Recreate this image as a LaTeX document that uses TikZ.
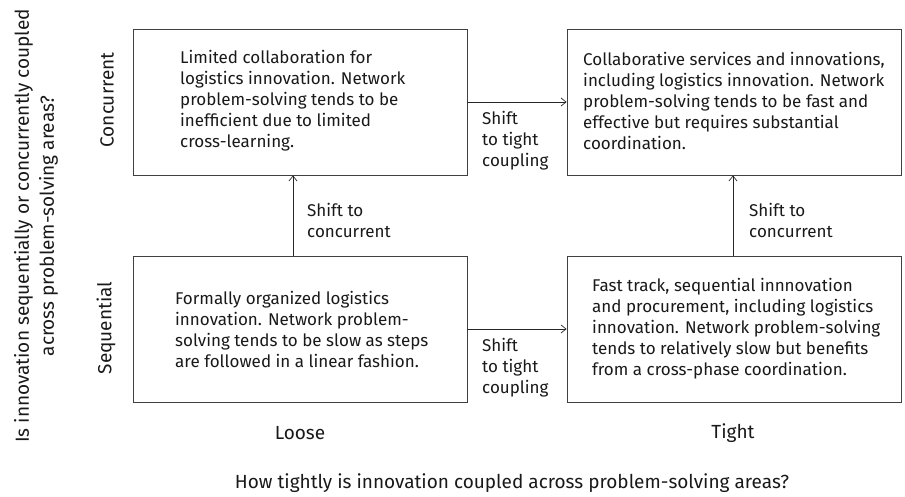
\documentclass[tikz,border=0pt]{standalone}
\usepackage{fontspec}
\setmainfont{Fira Sans}
\usetikzlibrary{arrows.meta}
\begin{document}
\begin{tikzpicture}[x=1pt,y=-1pt,
  quad/.style={draw=black!75, line width=0.8pt},
  txt/.style={anchor=west, inner sep=0pt, align=left, font=\fontsize{17}{21}\selectfont, text=black!90},
  axis/.style={inner sep=0pt, align=center, font=\fontsize{19}{25}\selectfont, text=black!90},
  conn/.style={draw=black!85, line width=0.7pt, -{Straight Barb[length=5pt,width=8pt]}}]
\useasboundingbox (0,0) rectangle (905,496);
% boxes
\node[quad, minimum width=334pt, minimum height=146pt, inner sep=0pt] (tl) at (300,102) {};
\node[quad, minimum width=334pt, minimum height=146pt, inner sep=0pt] (tr) at (734,102) {};
\node[quad, minimum width=334pt, minimum height=146pt, inner sep=0pt] (bl) at (300,329) {};
\node[quad, minimum width=334pt, minimum height=146pt, inner sep=0pt] (br) at (734,329) {};
% box texts
\node[txt] (tltext) at (180,101) {Limited collaboration for\\logistics innovation. Network\\problem-solving tends to be\\inefficient due to limited\\cross-learning.};
\node[txt] (trtext) at (583,101) {Collaborative services and innovations,\\including logistics innovation. Network\\problem-solving tends to be fast and\\effective but requires substantial\\coordination.};
\node[txt] (bltext) at (175,329.5) {Formally organized logistics\\innovation. Network problem-\\solving tends to be slow as steps\\are followed in a linear fashion.};
\node[txt] (brtext) at (592,329) {Fast track, sequential innnovation\\and procurement, including logistics\\innovation. Network problem-solving\\tends to relatively slow but benefits\\from a cross-phase coordination.};
% connectors
\coordinate (a1) at (467,102); \coordinate (a1e) at (567,102);
\coordinate (a2) at (467,329); \coordinate (a2e) at (567,329);
\draw[conn] (tl.east |- a1) -- (tr.west |- a1e);
\draw[conn] (bl.east |- a2) -- (br.west |- a2e);
\coordinate (v1) at (293,0); \coordinate (v2) at (733,0);
\draw[conn] (bl.north -| v1) -- (tl.south -| v1);
\draw[conn] (br.north -| v2) -- (tr.south -| v2);
% connector labels
\node[txt] (l1) at (482,141) {Shift\\to tight\\coupling};
\node[txt] (l2) at (482,368) {Shift\\to tight\\coupling};
\node[txt] (l3) at (307,220) {Shift to\\concurrent};
\node[txt] (l4) at (749,220) {Shift to\\concurrent};
% axis labels
\node[axis, rotate=90] (conc) at (107,100) {Concurrent};
\node[axis, rotate=90] (seq) at (106,328) {Sequential};
\node[axis] (loose) at (300,433) {Loose};
\node[axis] (tight) at (733,433) {Tight};
\node[axis] (xtitle) at (512,483) {How tightly is innovation coupled across problem-solving areas?};
\node[axis, rotate=90] (ytitle) at (36,226) {Is innovation sequentially or concurrently coupled\\across problem-solving areas?};
\end{tikzpicture}
\end{document}
